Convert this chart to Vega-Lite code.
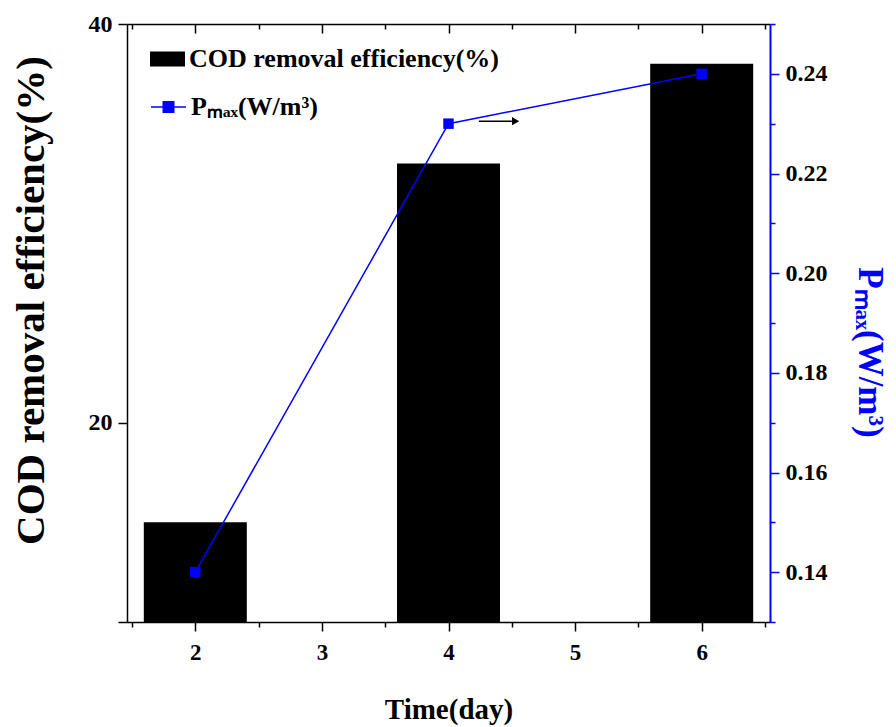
{
  "$schema": "https://vega.github.io/schema/vega-lite/v6.json",
  "width": 643,
  "height": 598,
  "autosize": "none",
  "padding": {"left": 127, "top": 24, "right": 126, "bottom": 105},
  "background": "white",
  "config": {"view": {"stroke": null}, "font": "Liberation Serif"},
  "datasets": {
    "main": [
      {"day": 2, "cod": 15, "pmax": 0.14},
      {"day": 4, "cod": 33, "pmax": 0.23},
      {"day": 6, "cod": 38, "pmax": 0.24}
    ],
    "arrow": [{"x": 4.24, "x2": 4.5, "xhead": 4.53, "y": 0.2305}]
  },
  "layer": [
    {
      "data": {"name": "main"},
      "mark": {"type": "bar", "size": 103, "clip": true},
      "encoding": {
        "x": {
          "field": "day", "type": "quantitative",
          "scale": {"domain": [1.5, 6.5], "nice": false, "zero": false},
          "axis": {
            "orient": "bottom",
            "values": [1.5, 2, 2.5, 3, 3.5, 4, 4.5, 5, 5.5, 6, 6.5],
            "labelExpr": "datum.value % 1 === 0 ? format(datum.value, 'd') : ''",
            "tickSize": {"condition": {"test": "datum.value % 1 === 0", "value": 9}, "value": 5},
            "tickColor": "black", "tickWidth": 1.5,
            "domainColor": "black", "domainWidth": 1.5,
            "labelFont": "Liberation Serif", "labelFontWeight": "bold", "labelFontSize": 23,
            "labelColor": "black", "labelPadding": 10, "labelOverlap": false, "labelFlush": false,
            "grid": false,
            "title": "Time(day)", "titleFont": "Liberation Serif", "titleFontWeight": "bold",
            "titleFontSize": 29, "titleColor": "black", "titleY": 96, "titleBaseline": "alphabetic"
          }
        },
        "y": {
          "field": "cod", "type": "quantitative",
          "scale": {"domain": [10, 40], "nice": false, "zero": false},
          "axis": {
            "orient": "left",
            "values": [10, 20, 40],
            "labelExpr": "datum.value === 10 ? '' : datum.label",
            "tickSize": 9, "tickColor": "black", "tickWidth": 1.5,
            "domainColor": "black", "domainWidth": 1.5,
            "labelFont": "Liberation Serif", "labelFontWeight": "bold", "labelFontSize": 24,
            "labelColor": "black", "labelPadding": 6, "labelOverlap": false,
            "grid": false,
            "title": "COD removal efficiency(%)", "titleFont": "Liberation Serif", "titleFontWeight": "bold",
            "titleFontSize": 41, "titleColor": "black", "titleAngle": -90,
            "titleX": -84, "titleY": 276, "titleBaseline": "alphabetic", "titleAlign": "center"
          }
        },
        "fill": {
          "datum": "COD removal efficiency(%)", "type": "nominal",
          "scale": {"range": ["black"]},
          "legend": {
            "orient": "none", "legendX": 23, "legendY": 17.5, "padding": 0, "title": null,
            "symbolType": "M-1,-0.43H1V0.43H-1Z", "symbolSize": 1225, "symbolStrokeWidth": 0,
            "labelFont": "Liberation Serif", "labelFontWeight": "bold", "labelFontSize": 26,
            "labelColor": "black", "labelOffset": 4, "labelLimit": 600
          }
        }
      }
    },
    {
      "layer": [
        {
          "data": {"name": "main"},
          "mark": {"type": "line", "strokeWidth": 1.5},
          "encoding": {
            "x": {
              "field": "day", "type": "quantitative",
              "scale": {"domain": [1.5, 6.5], "nice": false, "zero": false},
              "axis": {
                "orient": "top",
                "values": [1.5, 2, 2.5, 3, 3.5, 4, 4.5, 5, 5.5, 6, 6.5],
                "labels": false,
                "tickSize": {"condition": {"test": "datum.value % 1 === 0", "value": -9}, "value": -5},
                "tickColor": "black", "tickWidth": 1.5,
                "domainColor": "black", "domainWidth": 1.5,
                "grid": false, "title": null
              }
            },
            "y": {
              "field": "pmax", "type": "quantitative",
              "scale": {"domain": [0.13, 0.25], "nice": false, "zero": false},
              "axis": {
                "orient": "right",
                "values": [0.13, 0.14, 0.15, 0.16, 0.17, 0.18, 0.19, 0.2, 0.21, 0.22, 0.23, 0.24, 0.25],
                "labelExpr": "round(datum.value * 100) % 2 === 0 ? format(datum.value, '.2f') : ''",
                "tickSize": {"condition": {"test": "round(datum.value * 100) % 2 === 0", "value": 9}, "value": 5},
                "tickColor": "#0000ff", "tickWidth": 1.5,
                "domainColor": "#0000ff", "domainWidth": 2,
                "labelFont": "Liberation Serif", "labelFontWeight": "bold", "labelFontSize": 24,
                "labelColor": "black", "labelPadding": 6, "labelOverlap": false, "labelFlush": false,
                "grid": false,
                "title": "Pₘₐₓ(W/m³)", "titleFont": "Liberation Serif", "titleFontWeight": "bold",
                "titleFontSize": 35, "titleColor": "#0000ff", "titleAngle": 90,
                "titleX": 88, "titleY": 328, "titleBaseline": "alphabetic", "titleAlign": "center"
              }
            },
            "stroke": {
              "datum": "Pₘₐₓ(W/m³)", "type": "nominal",
              "scale": {"range": ["#0000ff"]},
              "legend": {
                "orient": "none", "legendX": 23, "legendY": 64.5, "padding": 0, "title": null,
                "symbolType": "M-1,0H-0.3M0.3,0H1M-0.3,-0.3H0.3V0.3H-0.3Z", "symbolSize": 1225,
                "symbolFillColor": "#0000ff", "symbolStrokeColor": "#0000ff", "symbolStrokeWidth": 1.5,
                "labelFont": "Liberation Serif", "labelFontWeight": "bold", "labelFontSize": 26,
                "labelColor": "black", "labelOffset": 4, "labelLimit": 600
              }
            }
          }
        },
        {
          "data": {"name": "main"},
          "mark": {"type": "point", "shape": "square", "filled": true, "size": 110, "color": "#0000ff", "opacity": 1},
          "encoding": {
            "x": {"field": "day", "type": "quantitative"},
            "y": {"field": "pmax", "type": "quantitative"}
          }
        },
        {
          "data": {"name": "arrow"},
          "mark": {"type": "rule", "color": "black", "strokeWidth": 1.5},
          "encoding": {
            "x": {"field": "x", "type": "quantitative"},
            "x2": {"field": "x2"},
            "y": {"field": "y", "type": "quantitative"}
          }
        },
        {
          "data": {"name": "arrow"},
          "mark": {"type": "point", "shape": "triangle-right", "filled": true, "size": 70, "color": "black", "opacity": 1},
          "encoding": {
            "x": {"field": "xhead", "type": "quantitative"},
            "y": {"field": "y", "type": "quantitative"}
          }
        }
      ]
    }
  ],
  "resolve": {"scale": {"y": "independent"}, "axis": {"x": "independent"}}
}
